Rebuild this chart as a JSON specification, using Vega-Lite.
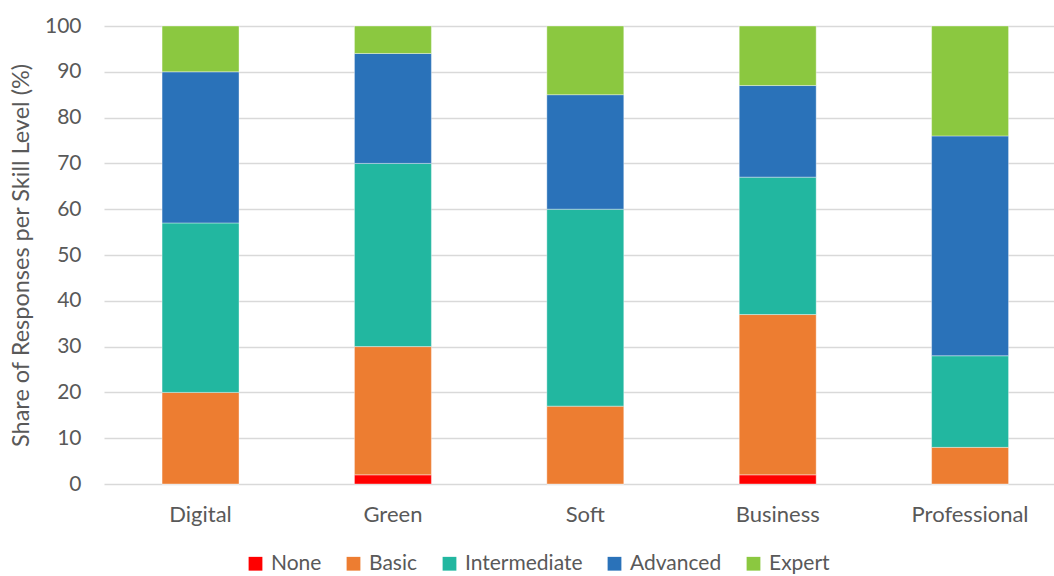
{
  "$schema": "https://vega.github.io/schema/vega-lite/v6.json",
  "width": 950,
  "height": 458,
  "autosize": {"type": "none"},
  "padding": {"left": 104, "top": 26, "right": 0, "bottom": 92},
  "background": "white",
  "config": {"view": {"stroke": null}, "font": "Lato"},
  "data": {
    "values": [
      {"skill": "Digital", "level": "None", "k": 1, "share": 0},
      {"skill": "Digital", "level": "Basic", "k": 2, "share": 20},
      {"skill": "Digital", "level": "Intermediate", "k": 3, "share": 37},
      {"skill": "Digital", "level": "Advanced", "k": 4, "share": 33},
      {"skill": "Digital", "level": "Expert", "k": 5, "share": 10},
      {"skill": "Green", "level": "None", "k": 1, "share": 2},
      {"skill": "Green", "level": "Basic", "k": 2, "share": 28},
      {"skill": "Green", "level": "Intermediate", "k": 3, "share": 40},
      {"skill": "Green", "level": "Advanced", "k": 4, "share": 24},
      {"skill": "Green", "level": "Expert", "k": 5, "share": 6},
      {"skill": "Soft", "level": "None", "k": 1, "share": 0},
      {"skill": "Soft", "level": "Basic", "k": 2, "share": 17},
      {"skill": "Soft", "level": "Intermediate", "k": 3, "share": 43},
      {"skill": "Soft", "level": "Advanced", "k": 4, "share": 25},
      {"skill": "Soft", "level": "Expert", "k": 5, "share": 15},
      {"skill": "Business", "level": "None", "k": 1, "share": 2},
      {"skill": "Business", "level": "Basic", "k": 2, "share": 35},
      {"skill": "Business", "level": "Intermediate", "k": 3, "share": 30},
      {"skill": "Business", "level": "Advanced", "k": 4, "share": 20},
      {"skill": "Business", "level": "Expert", "k": 5, "share": 13},
      {"skill": "Professional", "level": "None", "k": 1, "share": 0},
      {"skill": "Professional", "level": "Basic", "k": 2, "share": 8},
      {"skill": "Professional", "level": "Intermediate", "k": 3, "share": 20},
      {"skill": "Professional", "level": "Advanced", "k": 4, "share": 48},
      {"skill": "Professional", "level": "Expert", "k": 5, "share": 24}
    ]
  },
  "mark": {"type": "bar", "stroke": "white", "strokeWidth": 0.75, "strokeOpacity": 0.5},
  "encoding": {
    "x": {
      "field": "skill",
      "type": "nominal",
      "sort": ["Digital", "Green", "Soft", "Business", "Professional"],
      "scale": {"paddingInner": 0.6, "paddingOuter": 0.269, "align": 0.561},
      "axis": {
        "title": null,
        "labelAngle": 0,
        "labelFontSize": 22,
        "labelColor": "#595959",
        "labelPadding": 20,
        "ticks": false,
        "domain": false
      }
    },
    "y": {
      "field": "share",
      "type": "quantitative",
      "stack": "zero",
      "scale": {"domain": [0, 100], "nice": false},
      "axis": {
        "values": [0, 10, 20, 30, 40, 50, 60, 70, 80, 90, 100],
        "grid": true,
        "gridColor": "#d9d9d9",
        "gridWidth": 1.5,
        "domain": false,
        "ticks": false,
        "labelFontSize": 21,
        "labelColor": "#595959",
        "labelPadding": 23,
        "title": "Share of Responses per Skill Level (%)",
        "titleFontSize": 23.5,
        "titleFontWeight": "normal",
        "titleColor": "#595959",
        "titleX": -71,
        "titleY": 229
      }
    },
    "color": {
      "field": "level",
      "type": "nominal",
      "sort": ["None", "Basic", "Intermediate", "Advanced", "Expert"],
      "scale": {
        "domain": ["None", "Basic", "Intermediate", "Advanced", "Expert"],
        "range": ["#ff0000", "#ed7d31", "#22b7a0", "#2a72b9", "#8bc840"]
      },
      "legend": {
        "title": null,
        "orient": "none",
        "legendX": 141,
        "legendY": 527,
        "direction": "horizontal",
        "columns": 5,
        "symbolType": "square",
        "symbolSize": 190,
        "symbolStrokeWidth": 0,
        "labelFontSize": 21,
        "labelColor": "#595959",
        "labelOffset": 5,
        "columnPadding": 21
      }
    },
    "order": {"field": "k", "type": "quantitative"}
  }
}
